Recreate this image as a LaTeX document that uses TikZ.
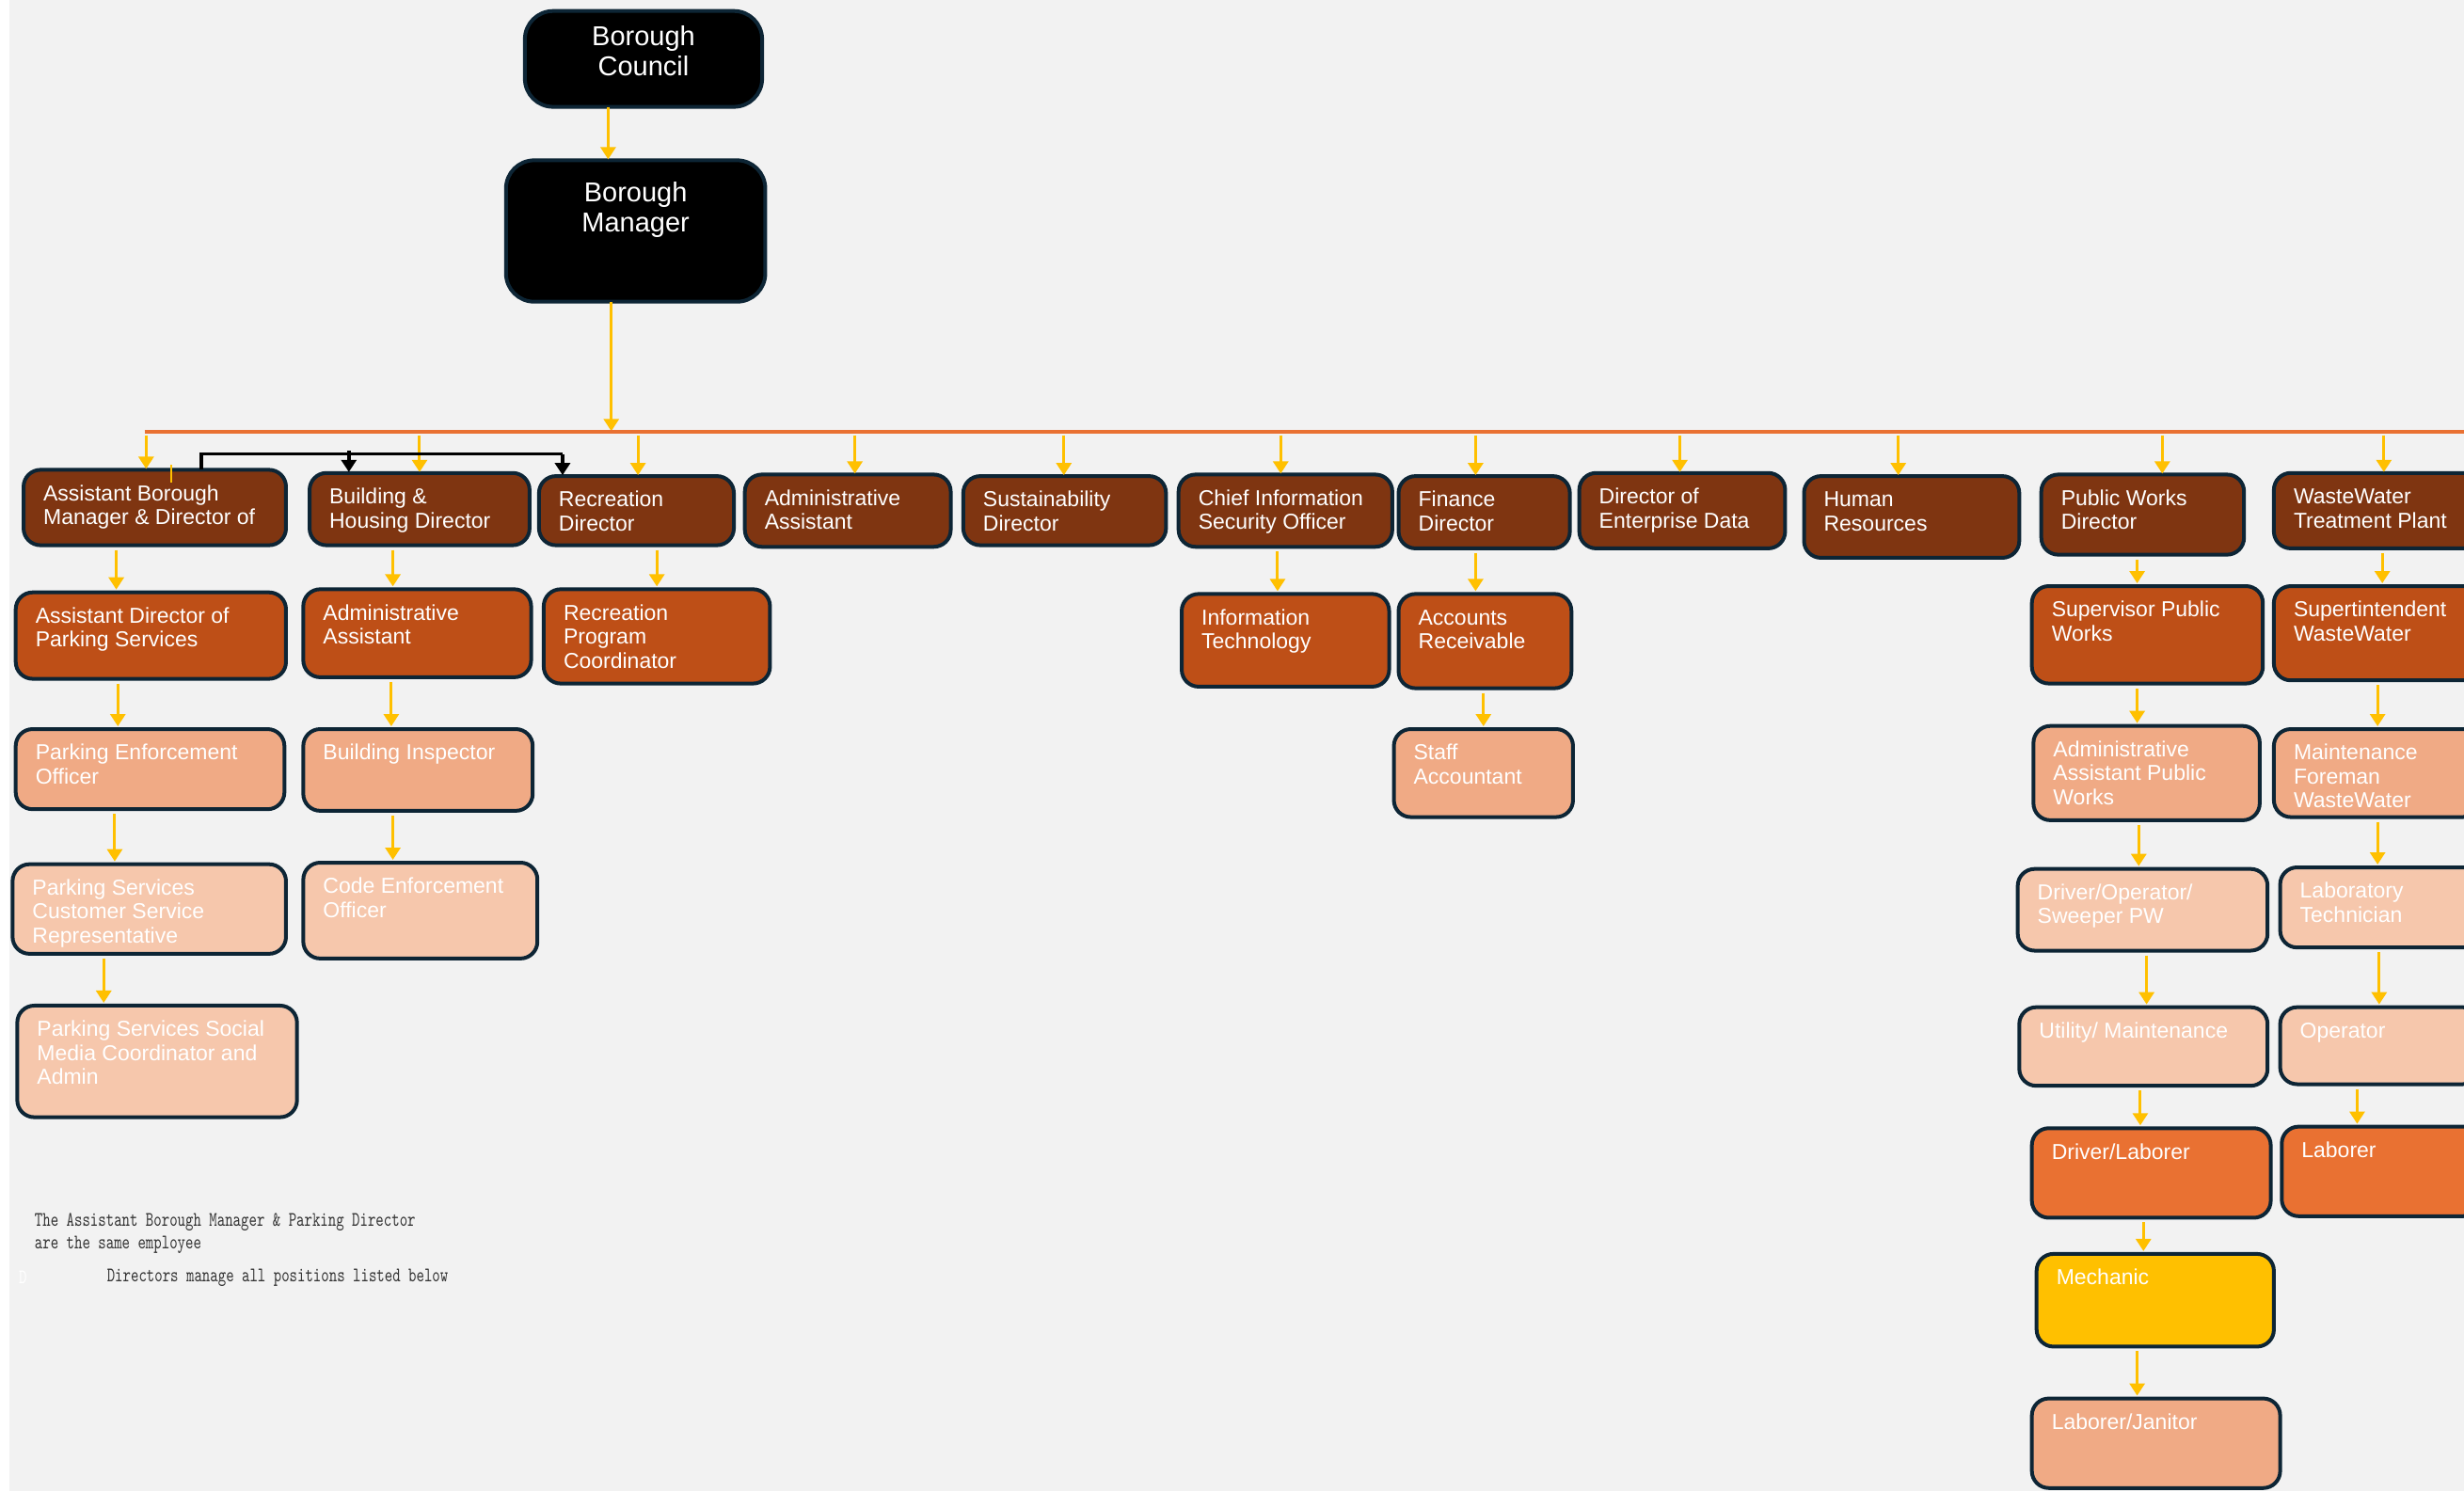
\documentclass[tikz,border=0pt]{standalone}
\usepackage{fontspec}
\setmainfont{Liberation Sans}
\newfontfamily\notefont[FakeStretch=0.73]{lmmono10-regular.otf}
\usetikzlibrary{arrows.meta,calc}
\definecolor{bgc}{HTML}{F2F2F2}
\definecolor{bordc}{HTML}{0D2535}
\definecolor{cdark}{HTML}{7F3511}
\definecolor{crust}{HTML}{BE4F17}
\definecolor{csalm}{HTML}{F0AA85}
\definecolor{cpeach}{HTML}{F6C7AC}
\definecolor{corng}{HTML}{E97132}
\definecolor{cyel}{HTML}{FFC000}
\definecolor{notec}{HTML}{333333}
\tikzset{
  box/.style={draw=bordc,line width=4pt,rounded corners=18pt,inner sep=0pt,outer sep=0pt},
  topbox/.style={box,fill=black,rounded corners=30pt},
  c1/.style={fill=cdark},
  c2/.style={fill=crust},
  c3/.style={fill=csalm},
  c4/.style={fill=cpeach},
  c5/.style={fill=corng},
  c6/.style={fill=cyel},
  lbl/.style={anchor=north west,inner sep=0pt,align=left,text=white,font=\fontsize{23}{25.5}\selectfont},
  toplbl/.style={anchor=north,inner sep=0pt,align=center,text=white,font=\fontsize{29}{32}\selectfont},
  arr/.style={draw=cyel,line width=3pt,-{Triangle[width=16pt,length=13pt]}},
  blkarr/.style={draw=black,line width=3.5pt,-{Triangle[width=16pt,length=13pt]}},
  blk/.style={draw=black,line width=3.5pt},
  trunk/.style={draw=corng,line width=4pt},
  note/.style={anchor=west,inner sep=0pt,text=notec,font=\notefont\fontsize{22}{24}\selectfont}
}
\newcommand{\orgbox}[7]{%
  \node[box,#6,minimum width={(#4-#2)*1.6703pt},minimum height={(#5-#3)*1.6703pt}] (#1) at ({(#2+#4)/2},{(#3+#5)/2}) {};
  \node[lbl] (#1-t) at ({#2+12.5},{#3+8.8}) {\strut #7};
}
\newcommand{\vlink}[3]{\draw[arr,shorten <=5pt,shorten >=3pt] (#3,0 |- #1.south) -- (#3,0 |- #2.north);}
\newcommand{\drop}[2]{\draw[arr,shorten >=1pt] (#2,277) -- (#2,0 |- #1.north);}
\begin{document}
\begin{tikzpicture}[x=1.6703pt,y=-1.6703pt]
\useasboundingbox (0,0) rectangle (1568,949);
\fill[bgc] (0,0) rectangle (1568,949);
\fill[white] (0,0) rectangle (6,949);

% top
\node[topbox,minimum width={151*1.6703pt},minimum height={61*1.6703pt}] (bc) at (409.5,37.5) {};
\node[toplbl] (bc-t) at (409.5,15.8) {\strut Borough\\Council};
\node[topbox,minimum width={165*1.6703pt},minimum height={90*1.6703pt}] (bm) at (404.5,147) {};
\node[toplbl] (bm-t) at (404.5,114.8) {\strut Borough\\Manager};
\draw[arr,shorten >=1pt] (387,0 |- bc.south) -- (387,0 |- bm.north);
\coordinate (trL) at (92,275);
\coordinate (trR) at (1570,275);
\draw[arr,shorten >=1pt] (389,0 |- bm.south) -- (389,0 |- trL);
\draw[trunk] (trL) -- (trR);

% row 1
\orgbox{abm}{15}{299}{182}{347}{c1}{Assistant Borough\\Manager \& Director of}
\orgbox{bhd}{197}{301}{337}{347}{c1}{Building \&\\Housing Director}
\orgbox{rd}{343}{303}{467}{347}{c1}{Recreation\\Director}
\orgbox{aa}{474}{302}{605}{348}{c1}{Administrative\\Assistant}
\orgbox{sd}{613}{303}{742}{347}{c1}{Sustainability\\Director}
\orgbox{ciso}{750}{302}{886}{348}{c1}{Chief Information\\Security Officer}
\orgbox{fd}{890}{303}{999}{349}{c1}{Finance\\Director}
\orgbox{ded}{1005}{301}{1136}{349}{c1}{Director of\\Enterprise Data}
\orgbox{hr}{1148}{303}{1285}{355}{c1}{Human\\Resources}
\orgbox{pwd}{1299}{302}{1428}{353}{c1}{Public Works\\Director}
\orgbox{wwtp}{1447}{301}{1578}{349}{c1}{WasteWater\\Treatment Plant}

% row 2
\orgbox{adps}{10}{377}{182}{432}{c2}{Assistant Director of\\Parking Services}
\orgbox{aab}{193}{375}{338}{431}{c2}{Administrative\\Assistant}
\orgbox{rpc}{346}{375}{490}{435}{c2}{Recreation\\Program\\Coordinator}
\orgbox{it}{752}{378}{884}{437}{c2}{Information\\Technology}
\orgbox{ar}{890}{378}{1000}{438}{c2}{Accounts\\Receivable}
\orgbox{spw}{1293}{373}{1440}{435}{c2}{Supervisor Public\\Works}
\orgbox{sww}{1447}{373}{1578}{433}{c2}{Supertintendent\\WasteWater}

% row 3
\orgbox{peo}{10}{464}{181}{515}{c3}{Parking Enforcement\\Officer}
\orgbox{bi}{193}{464}{339}{516}{c3}{Building Inspector}
\orgbox{sa}{887}{464}{1001}{520}{c3}{Staff\\Accountant}
\orgbox{aapw}{1294}{462}{1438}{522}{c3}{Administrative\\Assistant Public\\Works}
\orgbox{mfww}{1447}{464}{1578}{520}{c3}{Maintenance\\Foreman\\WasteWater}

% row 4
\orgbox{pscsr}{8}{550}{182}{607}{c4}{Parking Services\\Customer Service\\Representative}
\orgbox{ceo}{193}{549}{342}{610}{c4}{Code Enforcement\\Officer}
\orgbox{dos}{1284}{553}{1443}{605}{c4}{Driver/Operator/\\Sweeper PW}
\orgbox{lt}{1451}{552}{1578}{603}{c4}{Laboratory\\Technician}

% row 5
\orgbox{pssm}{11}{640}{189}{711}{c4}{Parking Services Social\\Media Coordinator and\\Admin}
\orgbox{um}{1285}{641}{1443}{691}{c4}{Utility/ Maintenance}
\orgbox{op}{1451}{641}{1578}{690}{c4}{Operator}

% rows 6-8
\orgbox{dl}{1293}{718}{1445}{775}{c5}{Driver/Laborer}
\orgbox{lab}{1452}{717}{1578}{774}{c5}{Laborer}
\orgbox{mech}{1296}{798}{1447}{857}{c6}{Mechanic}
\orgbox{lj}{1293}{890}{1451}{947}{c3}{Laborer/Janitor}

% drops from trunk
\drop{abm}{93}
\drop{bhd}{267}
\drop{rd}{406}
\drop{aa}{544}
\drop{sd}{677}
\drop{ciso}{815}
\drop{fd}{939}
\drop{ded}{1069}
\drop{hr}{1208}
\drop{pwd}{1376}
\drop{wwtp}{1517}

% small yellow tick on ABM
\draw[draw=cyel,line width=2pt] (109,296) -- (109,307);

% black connector
\coordinate (bk1) at (128,289);
\coordinate (bk2) at (358,289);
\coordinate (bk3) at (222,287);
\draw[blk] (128,0 |- abm.north) -- (bk1) -- (bk2);
\draw[blkarr,shorten >=1pt] (bk2) -- (358,0 |- rd.north);
\draw[blkarr,shorten >=1pt] (bk3) -- (222,0 |- bhd.north);

% child links
\vlink{abm}{adps}{74}
\vlink{adps}{peo}{75}
\vlink{peo}{pscsr}{73}
\vlink{pscsr}{pssm}{66}
\vlink{bhd}{aab}{250}
\vlink{aab}{bi}{249}
\vlink{bi}{ceo}{250}
\vlink{rd}{rpc}{418}
\vlink{ciso}{it}{813}
\vlink{fd}{ar}{939}
\vlink{ar}{sa}{944}
\vlink{pwd}{spw}{1360}
\vlink{spw}{aapw}{1360}
\vlink{aapw}{dos}{1361}
\vlink{dos}{um}{1366}
\vlink{um}{dl}{1362}
\vlink{dl}{mech}{1364}
\vlink{mech}{lj}{1360}
\vlink{wwtp}{sww}{1516}
\vlink{sww}{mfww}{1513}
\vlink{mfww}{lt}{1513}
\vlink{lt}{op}{1514}
\vlink{op}{lab}{1500}

% notes
\node[note] (n1) at (22,778) {The Assistant Borough Manager \& Parking Director};
\node[note] (n2) at (22,792) {are the same employee};
\node[note] (n3) at (68,813) {Directors manage all positions listed below};
\node[note,text=white] (n4) at (12,813) {D};
\end{tikzpicture}
\end{document}
